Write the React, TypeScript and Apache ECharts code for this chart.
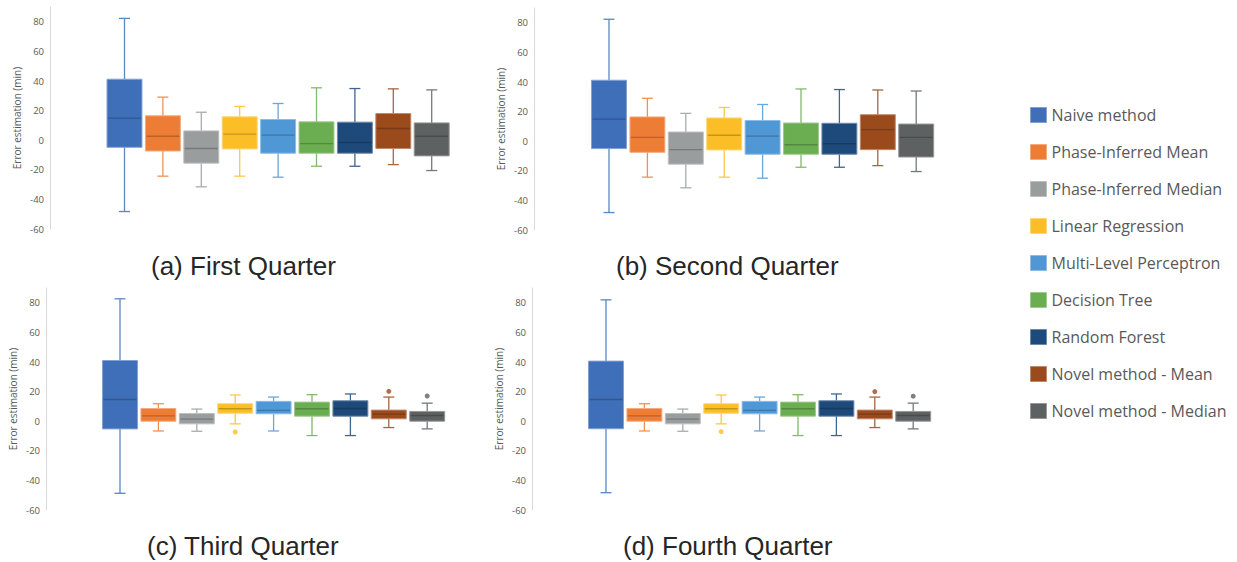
import React, { useEffect, useRef } from "react";
import * as echarts from "echarts";

const methods = [
  "Naive method",
  "Phase-Inferred Mean",
  "Phase-Inferred Median",
  "Linear Regression",
  "Multi-Level Perceptron",
  "Decision Tree",
  "Random Forest",
  "Novel method - Mean",
  "Novel method - Median",
];

const methodColors = [
  "#3F6FB9",
  "#ED7D35",
  "#9A9D9D",
  "#FCBE27",
  "#4F97D5",
  "#6BAE51",
  "#1E4A7B",
  "#9B4A1C",
  "#5D6162",
];

// [min, Q1, median, Q3, max]
const firstQuarterStats = [
  [-48.2, -4.8, 14.9, 41.2, 82.3],
  [-24.3, -7.3, 2.7, 16.5, 29.1],
  [-31.5, -15.5, -5.6, 6.3, 18.9],
  [-24.3, -5.9, 4.1, 15.8, 22.8],
  [-25.0, -8.8, 3.4, 14.0, 24.8],
  [-17.6, -8.8, -2.3, 12.4, 35.4],
  [-17.6, -8.8, -1.6, 12.2, 34.9],
  [-16.5, -5.6, 7.9, 18.0, 34.7],
  [-20.5, -10.6, 2.7, 11.7, 34.0],
];

const secondQuarterStats = [
  [-48.2, -5.0, 14.9, 41.2, 82.4],
  [-24.3, -7.5, 2.6, 16.4, 29.0],
  [-31.5, -15.5, -5.7, 6.2, 18.8],
  [-24.3, -5.9, 4.0, 15.7, 22.8],
  [-25.0, -8.8, 3.4, 14.0, 24.8],
  [-17.6, -8.8, -2.4, 12.3, 35.3],
  [-17.6, -8.8, -1.7, 12.1, 34.9],
  [-16.5, -5.7, 7.8, 17.9, 34.6],
  [-20.5, -10.7, 2.6, 11.6, 33.9],
];

const thirdQuarterStats = [
  [-48.7, -5.2, 14.7, 41.0, 82.7],
  [-6.6, 0.0, 3.6, 8.6, 11.8],
  [-6.8, -1.8, 1.4, 5.2, 8.2],
  [-1.8, 5.4, 8.4, 11.8, 17.7],
  [-6.6, 5.0, 7.3, 13.4, 16.3],
  [-9.7, 3.4, 8.4, 12.9, 17.9],
  [-9.7, 3.4, 8.6, 13.8, 18.4],
  [-4.3, 1.6, 4.8, 7.5, 16.3],
  [-5.2, 0.0, 3.9, 6.6, 12.2],
];

const fourthQuarterStats = [
  [-48.3, -5.1, 14.7, 40.6, 82.0],
  [-6.6, 0.0, 3.6, 8.6, 11.8],
  [-6.8, -1.8, 1.4, 5.2, 8.2],
  [-1.8, 5.4, 8.4, 11.8, 17.7],
  [-6.6, 5.0, 7.3, 13.4, 16.3],
  [-9.7, 3.4, 8.4, 12.9, 17.9],
  [-9.7, 3.4, 8.6, 13.8, 18.4],
  [-4.3, 1.6, 4.8, 7.5, 16.3],
  [-5.2, 0.0, 3.9, 6.6, 12.2],
];

// [method index, value]
const thirdQuarterOutliers = [
  [3, -7.3],
  [7, 20.2],
  [8, 17.0],
];
const fourthQuarterOutliers = [
  [3, -7.0],
  [7, 20.0],
  [8, 16.9],
];

const panelTitles = [
  "(a) First Quarter",
  "(b) Second Quarter",
  "(c) Third Quarter",
  "(d) Fourth Quarter",
];

const yTicks = { min: -60, max: 90, interval: 20 };

function mix(hex: string, target: number, amount: number): string {
  const h = hex.replace("#", "");
  const r = parseInt(h.slice(0, 2), 16);
  const g = parseInt(h.slice(2, 4), 16);
  const b = parseInt(h.slice(4, 6), 16);
  const f = (c: number) => Math.round(c + (target - c) * amount);
  const to = (c: number) => f(c).toString(16).padStart(2, "0");
  return "#" + to(r) + to(g) + to(b);
}

const panels = [
  { left: 105.3, top: 7, offset: 55.3, stats: firstQuarterStats, outliers: [] as number[][], title: { x: 151, y: 266 } },
  { left: 589.8, top: 8, offset: 55.8, stats: secondQuarterStats, outliers: [] as number[][], title: { x: 616, y: 266 } },
  { left: 100.8, top: 288, offset: 54.8, stats: thirdQuarterStats, outliers: thirdQuarterOutliers, title: { x: 147, y: 546 } },
  { left: 586.8, top: 288, offset: 54.8, stats: fourthQuarterStats, outliers: fourthQuarterOutliers, title: { x: 623, y: 546 } },
];

function renderBox(params: any, api: any) {
  const x = api.value(0);
  const lo = api.coord([x, api.value(1)]);
  const q1 = api.coord([x, api.value(2)]);
  const med = api.coord([x, api.value(3)]);
  const q3 = api.coord([x, api.value(4)]);
  const hi = api.coord([x, api.value(5)]);
  const band = api.size([1, 0])[0];
  const w = band * 0.91;
  const cx = lo[0];
  const capHalf = 5.5;
  const color = api.visual("color") as string;
  const whisker = mix(color, 255, 0.15);
  const border = mix(color, 255, 0.35);
  const median = mix(color, 0, 0.22);
  const ws = { stroke: whisker, lineWidth: 1.3 };
  return {
    type: "group",
    children: [
      { type: "line", shape: { x1: cx, y1: hi[1], x2: cx, y2: q3[1] }, style: ws },
      { type: "line", shape: { x1: cx - capHalf, y1: hi[1], x2: cx + capHalf, y2: hi[1] }, style: ws },
      { type: "line", shape: { x1: cx, y1: lo[1], x2: cx, y2: q1[1] }, style: ws },
      { type: "line", shape: { x1: cx - capHalf, y1: lo[1], x2: cx + capHalf, y2: lo[1] }, style: ws },
      {
        type: "rect",
        shape: { x: cx - w / 2, y: q3[1], width: w, height: q1[1] - q3[1] },
        style: { fill: color, stroke: border, lineWidth: 1 },
      },
      { type: "line", shape: { x1: cx - w / 2 + 1, y1: med[1], x2: cx + w / 2 - 1, y2: med[1] }, style: { stroke: median, lineWidth: 1.4 } },
    ],
  };
}

export default function App() {
  const ref = useRef<HTMLDivElement>(null);

  useEffect(() => {
    if (!ref.current) return;
    const chart = echarts.init(ref.current, null, { renderer: "svg" });

    const grid = panels.map((p) => ({ left: p.left, top: p.top, width: 345.6, height: 222, containLabel: false }));
    const xAxis = panels.map((_, i) => ({
      type: "category",
      gridIndex: i,
      data: methods,
      boundaryGap: true,
      axisLine: { show: false },
      axisTick: { show: false },
      axisLabel: { show: false },
      splitLine: { show: false },
    }));
    const yAxis = panels.map((p, i) => ({
      type: "value",
      gridIndex: i,
      min: yTicks.min,
      max: yTicks.max,
      interval: yTicks.interval,
      offset: p.offset,
      name: "Error estimation (min)",
      nameLocation: "middle",
      nameGap: 28,
      nameTextStyle: { color: "#595959", fontSize: 10, fontFamily: "Open Sans" },
      axisLine: { show: true, lineStyle: { color: "#D9D9D9", width: 1 } },
      axisTick: { show: false },
      splitLine: { show: false },
      axisLabel: {
        color: "#595959",
        fontSize: 9.5,
        fontFamily: "Open Sans",
        margin: 6,
        formatter: (v: number) => (v > 80 ? "" : String(v)),
      },
    }));

    const series: any[] = [];
    panels.forEach((p, pi) => {
      methods.forEach((m, mi) => {
        series.push({
          type: "custom",
          name: m,
          xAxisIndex: pi,
          yAxisIndex: pi,
          renderItem: renderBox,
          itemStyle: { color: methodColors[mi] },
          encode: { x: 0, y: [1, 2, 3, 4, 5] },
          data: [[mi, ...p.stats[mi]]],
          clip: false,
        });
      });
      p.outliers.forEach((o) => {
        series.push({
          type: "scatter",
          name: methods[o[0]],
          xAxisIndex: pi,
          yAxisIndex: pi,
          symbolSize: 5,
          itemStyle: { color: methodColors[o[0]] },
          data: [[o[0], o[1]]],
        });
      });
    });

    const graphic = panels.map((p, i) => ({
      type: "text",
      x: p.title.x,
      y: p.title.y,
      style: {
        text: panelTitles[i],
        fill: "#262626",
        font: "26px 'Liberation Sans', Arial, sans-serif",
        align: "left",
        verticalAlign: "middle",
      },
    }));

    chart.setOption({
      animation: false,
      backgroundColor: "#ffffff",
      grid,
      xAxis,
      yAxis,
      series,
      graphic,
      legend: {
        orient: "vertical",
        left: 1025,
        top: 99,
        itemWidth: 16,
        itemHeight: 15,
        itemGap: 15,
        selectedMode: false,
        textStyle: { color: "#595959", fontSize: 16, fontFamily: "Open Sans", lineHeight: 22 },
        data: methods.map((n, i) => ({
          name: n,
          icon: "rect",
          itemStyle: { color: methodColors[i], borderColor: mix(methodColors[i], 255, 0.35), borderWidth: 1 },
        })),
      },
    });

    return () => chart.dispose();
  }, []);

  return <div ref={ref} style={{ position: "absolute", left: 0, top: 0, width: 1237, height: 562 }} />;
}
